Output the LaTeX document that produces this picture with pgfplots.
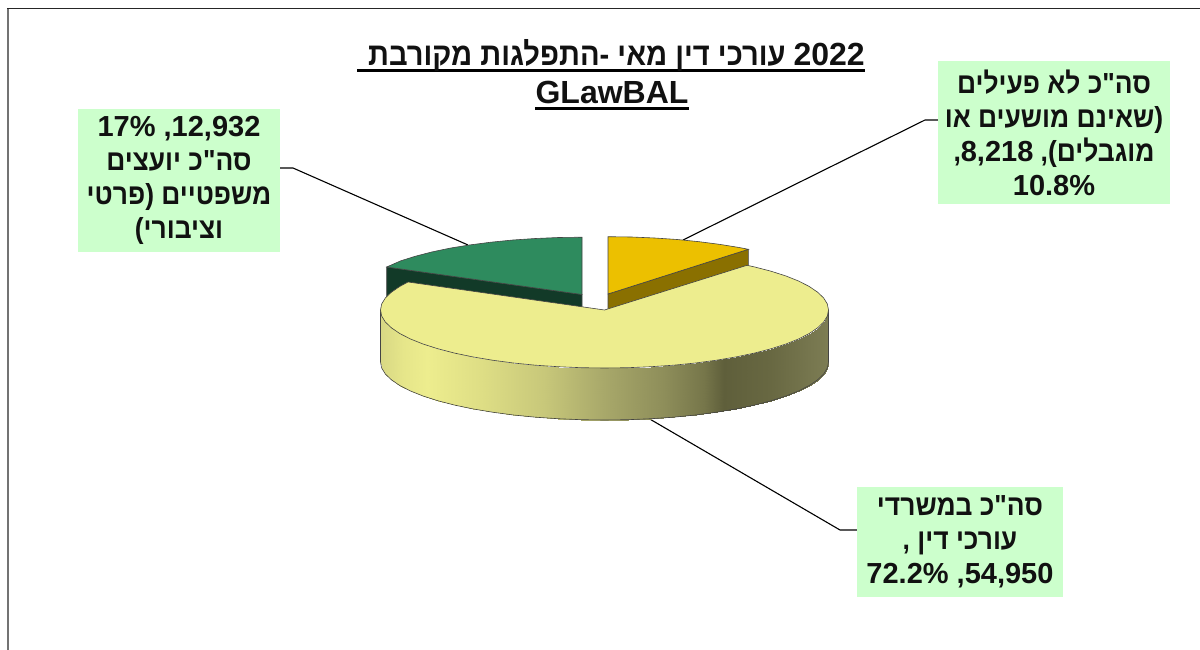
\documentclass[border=0pt]{standalone}
\usepackage{fontspec}
\usepackage{pgfplots}
\pgfplotsset{compat=1.18}
\newfontfamily\heb{Liberation Sans}[Script=Hebrew]
\newfontfamily\hebn{Liberation Sans}[Script=Hebrew,FakeStretch=0.91]
\newfontfamily\hebt{Liberation Sans}[Script=Hebrew,FakeStretch=0.91]
\TeXXeTstate=1
\definecolor{boxg}{HTML}{CCFFCC}
\definecolor{ytop}{HTML}{EDED8E}
\definecolor{gtop}{HTML}{2E8B5E}
\definecolor{gside}{HTML}{123A28}
\definecolor{otop}{HTML}{ECC000}
\definecolor{oside}{HTML}{8A7000}
\definecolor{edge}{HTML}{444444}
\definecolor{txt}{HTML}{111111}
\pgfplotsset{colormap={side}{
 rgb255(0pt)=(216,216,132);
 rgb255(23pt)=(230,230,138);
 rgb255(47pt)=(237,237,142);
 rgb255(100pt)=(222,222,133);
 rgb255(163pt)=(200,200,122);
 rgb255(223pt)=(168,168,106);
 rgb255(283pt)=(142,142,90);
 rgb255(323pt)=(118,118,74);
 rgb255(343pt)=(95,95,59);
 rgb255(390pt)=(104,104,66);
 rgb255(448pt)=(125,125,84)}}
\newcommand{\tf}{\hebn\fontsize{29}{34}\selectfont\bfseries\color{txt}}
\newcommand{\ttf}{\hebt\fontsize{32}{34}\selectfont\bfseries\color{txt}}
\newcommand{\N}[1]{{\heb\bfseries #1}}
\begin{document}
\begin{tikzpicture}
\begin{axis}[
  scale only axis, width=1200pt, height=650pt,
  xmin=0, xmax=1200, ymin=0, ymax=650, y dir=reverse,
  hide axis, clip=true, axis on top=false]

% frame
\addplot[draw=black!55, line width=1.6pt] coordinates {(8,650)(8,8.5)};
\addplot[draw=black!85, line width=1.2pt] coordinates {(7.2,8.5)(1200,8.5)};

% leaders
\addplot[draw=black, line width=1.1pt] coordinates {(938,120)(925,120)(683,240)};
\addplot[draw=black, line width=1.1pt] coordinates {(280,168)(293,168)(468,245)};
\addplot[draw=black, line width=1.1pt] coordinates {(857,530)(840,530)(648,418)};

% label boxes
\addplot[fill=boxg, draw=none] coordinates {(938,61)(1170,61)(1170,204)(938,204)} --cycle;
\addplot[fill=boxg, draw=none] coordinates {(78,109)(280,109)(280,252)(78,252)} --cycle;
\addplot[fill=boxg, draw=none] coordinates {(857,487)(1063,487)(1063,597)(857,597)} --cycle;

% green slice
\addplot[fill=gside, draw=edge, line width=0.6pt] coordinates {(582,294.5)(386.7,267)(386.7,319)(582,346.5)} --cycle;
\addplot[fill=gtop, draw=edge, line width=0.6pt] coordinates {
 (582,294.5)(582,237.2)(558.6,237.5)(535.4,238.5)(512.8,240)(490.9,242.2)(470,244.9)
 (450.3,248.1)(432.1,251.9)(415.5,256.2)(400.8,260.8)(386.7,267)} --cycle;

% orange slice
\addplot[fill=oside, draw=edge, line width=0.6pt] coordinates {(608,294)(748.3,249.3)(748.3,301.3)(608,346)} --cycle;
\addplot[fill=otop, draw=edge, line width=0.6pt] coordinates {
 (608,294)(608,236.7)(631.4,237)(654.6,238)(677.2,239.5)(699.1,241.7)(720,244.4)
 (739.7,247.6)(748.3,249.3)} --cycle;

% big slice side
\addplot[surf, shader=interp, colormap name=side, point meta=x, mesh/rows=2] table {
x y
380.5 310
381.7 316.1
385.4 322.1
391.5 327.9
399.9 333.6
410.5 339
423.3 344.1
438.0 348.8
454.6 353.1
472.8 356.9
492.5 360.2
513.4 363
535.3 365.2
557.9 366.7
581.1 367.7
604.5 368
627.9 367.7
651.1 366.7
673.7 365.2
695.6 363
716.5 360.2
736.2 356.9
754.4 353.1
771.0 348.8
785.7 344.1
798.5 339
809.1 333.6
817.5 327.9
823.6 322.1
827.3 316.1
828.5 310
380.5 362
381.7 368.1
385.4 374.1
391.5 379.9
399.9 385.6
410.5 391
423.3 396.1
438.0 400.8
454.6 405.1
472.8 408.9
492.5 412.2
513.4 415
535.3 417.2
557.9 418.7
581.1 419.7
604.5 420
627.9 419.7
651.1 418.7
673.7 417.2
695.6 415
716.5 412.2
736.2 408.9
754.4 405.1
771.0 400.8
785.7 396.1
798.5 391
809.1 385.6
817.5 379.9
823.6 374.1
827.3 368.1
828.5 362
};
% side outline
\addplot[draw=edge, line width=0.6pt] coordinates {
 (380.5,310)(380.5,362)(381.7,368.1)(385.4,374.1)(391.5,379.9)(399.9,385.6)(410.5,391)
 (423.3,396.1)(438,400.8)(454.6,405.1)(472.8,408.9)(492.5,412.2)(513.4,415)(535.3,417.2)
 (557.9,418.7)(581.1,419.7)(604.5,420)(627.9,419.7)(651.1,418.7)(673.7,417.2)(695.6,415)
 (716.5,412.2)(736.2,408.9)(754.4,405.1)(771,400.8)(785.7,396.1)(798.5,391)(809.1,385.6)
 (817.5,379.9)(823.6,374.1)(827.3,368.1)(828.5,362)(828.5,310)};

% big slice top
\addplot[fill=ytop, draw=edge, line width=0.6pt] coordinates {
 (604.5,310)(408,282)(399.9,286.4)(391.5,292.1)(385.4,297.9)(381.7,303.9)
 (380.5,310)(381.7,316.1)(385.4,322.1)(391.5,327.9)(399.9,333.6)(410.5,339)
 (423.3,344.1)(438,348.8)(454.6,353.1)(472.8,356.9)(492.5,360.2)(513.4,363)
 (535.3,365.2)(557.9,366.7)(581.1,367.7)(604.5,368)(627.9,367.7)(651.1,366.7)
 (673.7,365.2)(695.6,363)(716.5,360.2)(736.2,356.9)(754.4,353.1)(771,348.8)
 (785.7,344.1)(798.5,339)(809.1,333.6)(817.5,327.9)(823.6,322.1)(827.3,316.1)
 (828.5,310)(827.3,303.9)(823.6,297.9)(817.5,292.1)(809.1,286.4)(798.5,281)
 (785.7,275.9)(771,271.2)(754.4,266.9)(747,265.3)} --cycle;

% title underlines
\addplot[draw=black, line width=2.6pt] coordinates {(357,70.5)(865,70.5)};
\addplot[draw=black, line width=2.6pt] coordinates {(535,108.5)(689,108.5)};

% title
\node[anchor=base east, inner sep=0pt, font=\ttf] at (axis cs:865,65.5) {\beginR\beginL\N{2022}\endL{} עורכי דין מאי -התפלגות מקורבת\endR};
\node[anchor=base, inner sep=0pt, font=\ttf] at (axis cs:612,103.5) {\N{GLawBAL}};

% labels
\node[align=center, inner sep=0pt, font=\tf] at (axis cs:1054,132.5) {
 \beginR סה"כ לא פעילים\endR\\
 \beginR (שאינם מושעים או\endR\\
 \beginR מוגבלים), \beginL\N{8,218}\endL,\endR\\
 \N{10.8\%}};
\node[align=center, inner sep=0pt, font=\tf] at (axis cs:179,180.5) {
 \N{17\% ,\hbox{12,932}}\\
 \beginR סה"כ יועצים\endR\\
 \beginR משפטיים (פרטי\endR\\
 \beginR וציבורי)\endR};
\node[align=center, inner sep=0pt, font=\tf] at (axis cs:960,542) {
 \beginR סה"כ במשרדי\endR\\
 \beginR עורכי דין ,\endR\\
 \N{72.2\% ,\hbox{54,950}}};
\end{axis}
\useasboundingbox (0,0) rectangle (1200pt,650pt);
\end{tikzpicture}
\end{document}
